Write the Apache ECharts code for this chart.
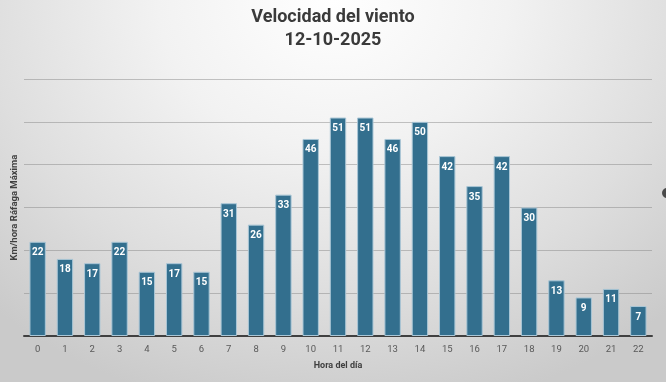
<!DOCTYPE html>
<html>
<head>
<meta charset="utf-8">
<script src="https://cdn.jsdelivr.net/npm/echarts@6/dist/echarts.min.js"></script>
<style>
html,body{margin:0;padding:0;}
#chart{width:666px;height:382px;background:radial-gradient(ellipse 75% 110% at 50% 0%, #ffffff 0%, #f2f2f2 35%, #dedede 70%, #cacaca 100%);}
</style>
</head>
<body>
<div id="chart"></div>
<script>
const titleText = 'Velocidad del viento\n12-10-2025';
const categories = ['0','1','2','3','4','5','6','7','8','9','10','11','12','13','14','15','16','17','18','19','20','21','22'];
const values = [22,18,17,22,15,17,15,31,26,33,46,51,51,46,50,42,35,42,30,13,9,11,7];
const yAxisName = 'Km/hora Ráfaga Máxima';
const xAxisName = 'Hora del día';

const chart = echarts.init(document.getElementById('chart'));
chart.setOption({
  backgroundColor: 'transparent',
  animation: false,
  title: {
    text: titleText,
    left: 'center',
    top: 1,
    textStyle: {
      fontFamily: 'Roboto',
      fontWeight: 'bold',
      fontSize: 18,
      lineHeight: 23,
      color: '#3a3a3a'
    }
  },
  grid: { left: 24, right: 14, top: 79, bottom: 46, containLabel: false, outerBoundsMode: 'none' },
  xAxis: {
    type: 'category',
    data: categories,
    name: xAxisName,
    nameLocation: 'middle',
    nameGap: 25,
    nameTextStyle: { fontFamily: 'Roboto', fontWeight: 'bold', fontSize: 9, color: '#404040' },
    axisLine: { lineStyle: { color: '#404040', width: 2 } },
    axisTick: { show: false },
    axisLabel: { fontFamily: 'Roboto', fontSize: 9.5, color: '#595959', margin: 9 }
  },
  yAxis: {
    type: 'value',
    min: 0,
    max: 60,
    interval: 10,
    name: yAxisName,
    nameLocation: 'middle',
    nameGap: 4,
    nameTextStyle: { fontFamily: 'Roboto', fontWeight: 'bold', fontSize: 9.5, color: '#404040' },
    axisLabel: { show: false },
    axisLine: { show: false },
    axisTick: { show: false },
    splitLine: { lineStyle: { color: 'rgba(128,128,128,0.45)', width: 1 } }
  },
  series: [{
    type: 'bar',
    data: values,
    barWidth: '60%',
    itemStyle: { color: '#336f8e', borderColor: '#a9c6d6', borderWidth: 1 },
    label: {
      show: true,
      position: 'insideTop',
      distance: 6,
      color: '#ffffff',
      fontFamily: 'Roboto',
      fontWeight: 'bold',
      fontSize: 10
    }
  }],
  graphic: [{
    type: 'circle',
    shape: { cx: 667, cy: 193, r: 5 },
    style: { fill: '#4a4a4a' }
  }]
});
</script>
</body>
</html>
